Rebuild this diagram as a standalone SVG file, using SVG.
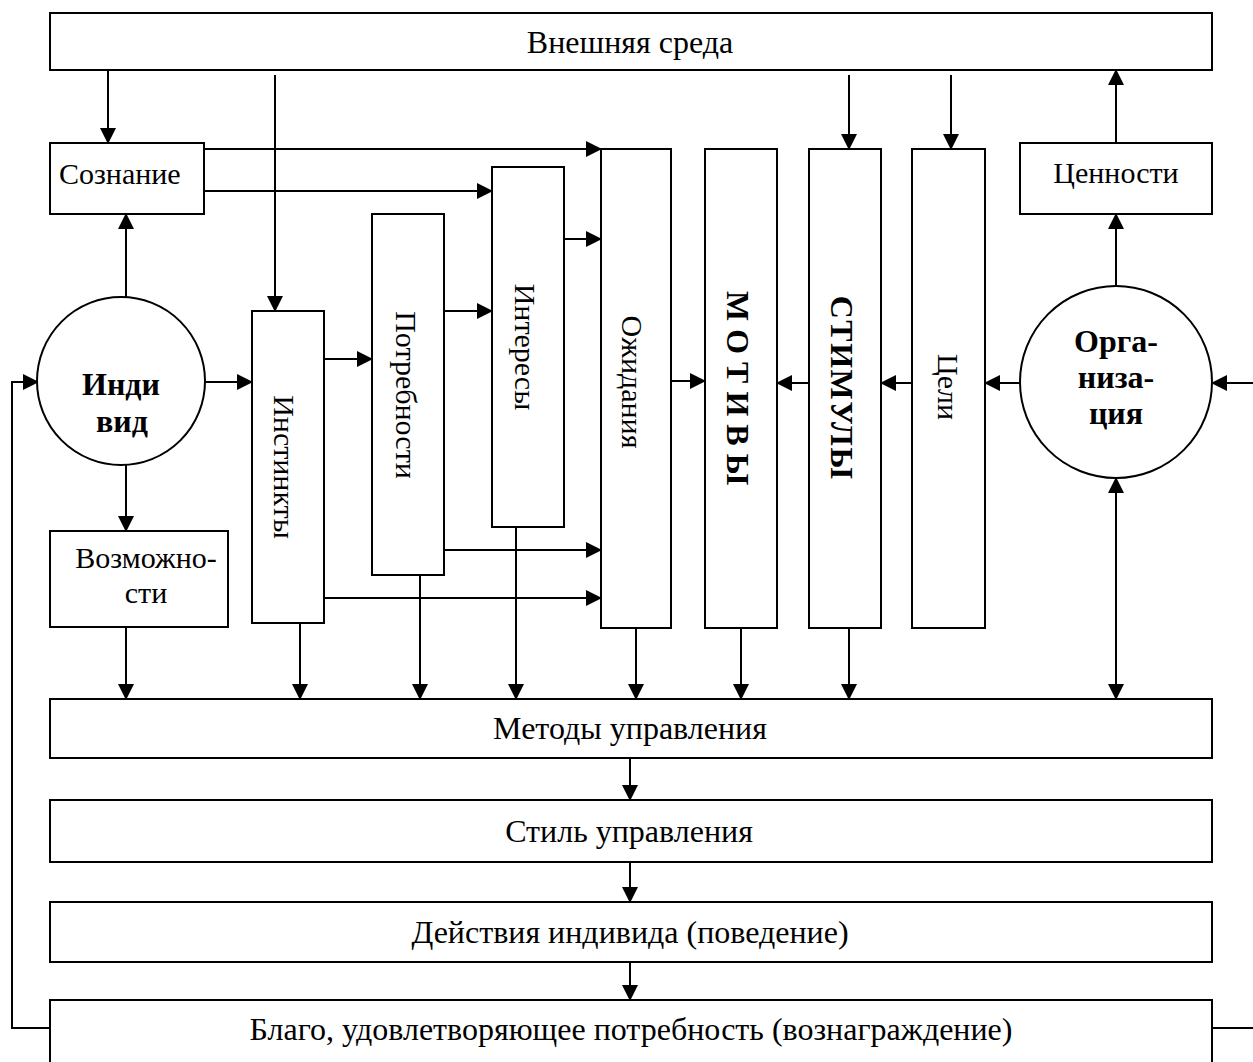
<svg xmlns="http://www.w3.org/2000/svg" width="1253" height="1062" viewBox="0 0 1253 1062">
<defs>
<style>
.box{fill:#fff;stroke:#000;stroke-width:2}
.t{font-family:"Liberation Serif","Times New Roman",serif;font-size:30px;fill:#000}
.L{font-size:32px}
.b{font-weight:bold;font-size:32px}
.c{text-anchor:middle}
.ln{fill:none;stroke:#000;stroke-width:2}
.a{marker-end:url(#ah)}
</style>
<marker id="ah" markerUnits="userSpaceOnUse" markerWidth="16" markerHeight="16" refX="15" refY="8" orient="auto">
<path d="M0,0 L16,8 L0,16 z" fill="#000"/>
</marker>
<marker id="as" markerUnits="userSpaceOnUse" markerWidth="16" markerHeight="16" refX="15" refY="8" orient="auto-start-reverse">
<path d="M0,0 L16,8 L0,16 z" fill="#000"/>
</marker>
</defs>
<rect width="1253" height="1062" fill="#fff"/>

<g id="connectors">
<line class="ln a" x1="108" y1="70" x2="108" y2="143"/>
<line class="ln a" x1="275" y1="75" x2="275" y2="311"/>
<line class="ln a" x1="849" y1="75" x2="849" y2="149"/>
<line class="ln a" x1="951" y1="75" x2="951" y2="149"/>
<line class="ln a" x1="1116" y1="143" x2="1116" y2="70"/>
<line class="ln a" x1="1116" y1="286" x2="1116" y2="214"/>
<line class="ln a" x1="126" y1="297" x2="126" y2="214"/>
<line class="ln a" x1="204" y1="149" x2="601" y2="149"/>
<line class="ln a" x1="204" y1="191" x2="492" y2="191"/>
<line class="ln a" x1="564" y1="239" x2="601" y2="239"/>
<line class="ln a" x1="444" y1="311" x2="492" y2="311"/>
<line class="ln a" x1="324" y1="359" x2="372" y2="359"/>
<line class="ln a" x1="204" y1="382" x2="252" y2="382"/>
<line class="ln a" x1="444" y1="550" x2="601" y2="550"/>
<line class="ln a" x1="324" y1="598" x2="601" y2="598"/>
<line class="ln a" x1="671" y1="381" x2="705" y2="381"/>
<line class="ln a" x1="809" y1="383" x2="777" y2="383"/>
<line class="ln a" x1="912" y1="383" x2="881" y2="383"/>
<line class="ln a" x1="1020" y1="383" x2="985" y2="383"/>
<line class="ln a" x1="1253" y1="383" x2="1212" y2="383"/>
<line class="ln a" x1="126" y1="465" x2="126" y2="531"/>
<line class="ln a" x1="126" y1="627" x2="126" y2="699"/>
<line class="ln a" x1="300" y1="623" x2="300" y2="699"/>
<line class="ln a" x1="420" y1="575" x2="420" y2="699"/>
<line class="ln a" x1="516" y1="527" x2="516" y2="699"/>
<line class="ln a" x1="636" y1="628" x2="636" y2="699"/>
<line class="ln a" x1="741" y1="628" x2="741" y2="699"/>
<line class="ln a" x1="849" y1="628" x2="849" y2="699"/>
<line class="ln" x1="1116" y1="478" x2="1116" y2="699" marker-start="url(#as)" marker-end="url(#ah)"/>
<line class="ln a" x1="630" y1="758" x2="630" y2="800"/>
<line class="ln a" x1="630" y1="862" x2="630" y2="902"/>
<line class="ln a" x1="630" y1="962" x2="630" y2="1000"/>
<polyline class="ln a" points="50,1028 12,1028 12,382 38,382"/>
<line class="ln" x1="1212" y1="1028" x2="1253" y2="1028"/>
</g>

<g id="vneshnyaya-sreda">
<rect class="box" x="50" y="13" width="1162" height="57"/>
<text class="t L c" x="630" y="53">Внешняя среда</text>
</g>
<g id="soznanie">
<rect class="box" x="50" y="143" width="154" height="71"/>
<text class="t" x="59" y="184">Сознание</text>
</g>
<g id="tsennosti">
<rect class="box" x="1020" y="143" width="192" height="71"/>
<text class="t c" x="1116" y="183" font-size="31.5">Ценности</text>
</g>
<g id="individ">
<circle class="box" cx="121" cy="381" r="84"/>
<text class="t b c" x="121" y="395">Инди</text>
<text class="t b c" x="122" y="432">вид</text>
</g>
<g id="vozmozhnosti">
<rect class="box" x="50" y="531" width="178" height="96"/>
<text class="t c" x="146" y="568">Возможно-</text>
<text class="t c" x="146" y="603">сти</text>
</g>
<g id="instinkty">
<rect class="box" x="252" y="311" width="72" height="312"/>
<text class="t c" transform="translate(274,467) rotate(90)">Инстинкты</text>
</g>
<g id="potrebnosti">
<rect class="box" x="372" y="214" width="72" height="361"/>
<text class="t c" transform="translate(396,395) rotate(90)">Потребности</text>
</g>
<g id="interesy">
<rect class="box" x="492" y="167" width="72" height="360"/>
<text class="t c" transform="translate(515,347) rotate(90)">Интересы</text>
</g>
<g id="ozhidaniya">
<rect class="box" x="601" y="149" width="70" height="479"/>
<text class="t c" transform="translate(622,382) rotate(90)">Ожидания</text>
</g>
<g id="motivy">
<rect class="box" x="705" y="149" width="72" height="479"/>
<text class="t b c" transform="translate(727,388) rotate(90)" font-size="30">М О Т И В Ы</text>
</g>
<g id="stimuly">
<rect class="box" x="809" y="149" width="72" height="479"/>
<text class="t b c" transform="translate(831,388) rotate(90)" font-size="30" letter-spacing="1.5">СТИМУЛЫ</text>
</g>
<g id="tseli">
<rect class="box" x="912" y="149" width="73" height="479"/>
<text class="t c" transform="translate(938,387) rotate(90)">Цели</text>
</g>
<g id="organizatsiya">
<circle class="box" cx="1116" cy="382" r="96"/>
<text class="t b c" x="1116" y="352">Орга-</text>
<text class="t b c" x="1116" y="388">низа-</text>
<text class="t b c" x="1116" y="424">ция</text>
</g>
<g id="metody">
<rect class="box" x="50" y="699" width="1162" height="59"/>
<text class="t L c" x="630" y="739">Методы управления</text>
</g>
<g id="stil">
<rect class="box" x="50" y="800" width="1162" height="62"/>
<text class="t L c" x="629" y="842">Стиль управления</text>
</g>
<g id="deystviya">
<rect class="box" x="50" y="902" width="1162" height="60"/>
<text class="t L c" x="630" y="943">Действия индивида (поведение)</text>
</g>
<g id="blago">
<rect class="box" x="50" y="1000" width="1162" height="70"/>
<text class="t L c" x="631" y="1040">Благо, удовлетворяющее потребность (вознаграждение)</text>
</g>
</svg>
